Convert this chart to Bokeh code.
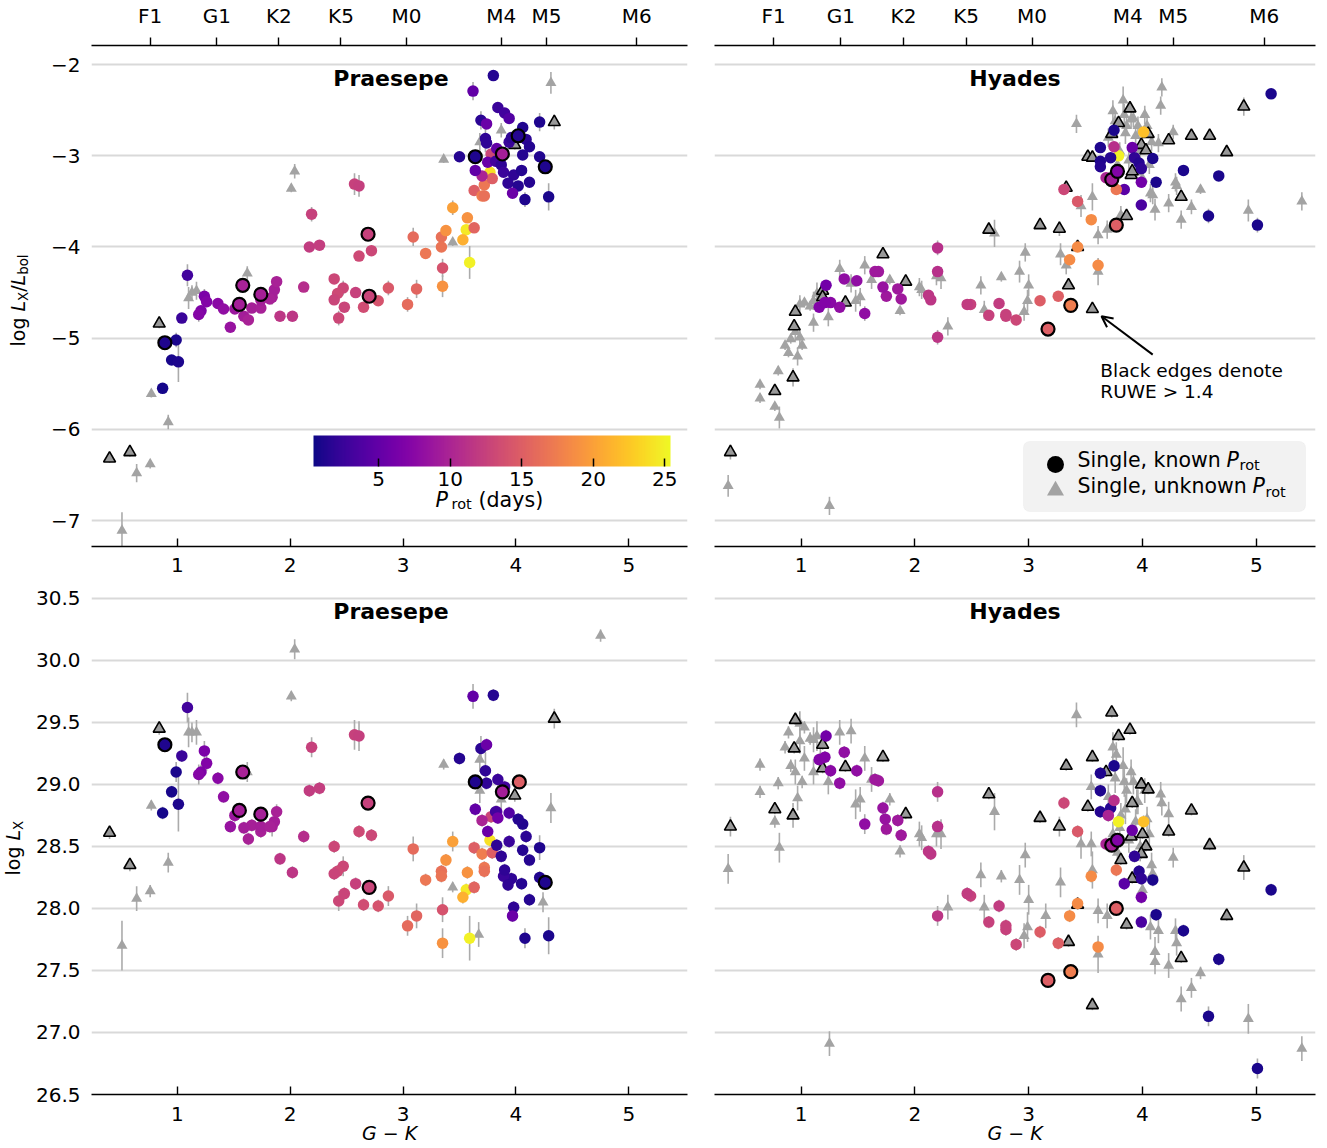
import math
import numpy as np
from bokeh.plotting import figure
from bokeh.layouts import gridplot
from bokeh.models import (ColumnDataSource, LinearColorMapper, ColorBar, FixedTicker,
                          CustomJSTickFormatter, LinearAxis, Label, BoxAnnotation,
                          Arrow, OpenHead, Range1d)
from bokeh.palettes import Plasma256
from bokeh.embed import file_html
from bokeh.resources import INLINE

nan = float("nan")

# ---------------- data ----------------
SPT_LABELS = ["F1", "G1", "K2", "K5", "M0", "M4", "M5", "M6"]
SPT_GK = [0.76, 1.35, 1.90, 2.45, 3.03, 3.87, 4.27, 5.07]
GK_TICKS = [1, 2, 3, 4, 5]
LXLBOL_TICKS = [-7, -6, -5, -4, -3, -2]
LX_TICKS = [26.5, 27.0, 27.5, 28.0, 28.5, 29.0, 29.5, 30.0, 30.5]
PROT_TICKS = [5, 10, 15, 20, 25]
PROT_LOW, PROT_HIGH = 0.45, 25.4

# Praesepe, single stars with known rotation period
PR_GK = [0.89, 0.99, 0.95, 1.01, 0.87, 1.04, 1.09, 1.24, 1.26, 1.21,
         1.19, 1.36, 1.41, 1.47, 1.51, 1.58, 1.55, 1.74, 1.66, 1.59,
         1.63, 1.74, 1.74, 1.84, 1.86, 1.88, 1.82, 1.91, 2.02, 2.12,
         2.19, 2.17, 2.26, 2.57, 2.61, 2.39, 2.47, 2.42, 2.39, 2.43,
         2.48, 2.58, 2.65, 2.69, 2.61, 2.72, 2.70, 2.78, 2.87, 3.04,
         3.09, 3.12, 3.20, 3.34, 3.34, 3.38, 3.35, 3.35, 3.44, 3.57,
         3.56, 3.63, 3.53, 3.59, 3.63, 3.70, 3.72, 3.72, 3.77, 3.79,
         3.78, 3.70, 3.50, 3.64, 3.62, 3.80, 3.69, 3.73, 3.74, 3.84,
         3.90, 3.94, 3.74, 3.83, 3.88, 3.94, 3.96, 4.02, 4.06, 4.09,
         4.12, 4.06, 4.21, 4.21, 4.26, 3.64, 3.75, 3.82, 3.87, 3.89,
         3.98, 4.05, 3.93, 4.02, 3.97, 4.12, 4.08, 4.29,
         3.83, 3.90, 3.84, 4.03]
PR_LXLBOL = [-5.05, -5.02, -5.24, -5.26, -5.55, -4.78, -4.31, -4.54, -4.60, -4.70,
             -4.74, -4.62, -4.68, -4.88, -4.68, -4.42, -4.63, -4.52, -4.67, -4.76,
             -4.80, -4.67, -4.58, -4.55, -4.47, -4.38, -4.57, -4.76, -4.76, -4.44,
             -3.64, -4.00, -3.98, -3.31, -3.33, -4.35, -4.45, -4.51, -4.58, -4.78,
             -4.66, -4.50, -4.66, -3.86, -4.10, -4.04, -4.54, -4.59, -4.45, -4.63,
             -3.89, -4.46, -4.07, -3.89, -4.00, -3.82, -4.23, -4.43, -3.57, -3.68,
             -3.81, -3.79, -3.92, -4.17, -3.38, -3.44, -3.32, -3.44, -3.18, -3.25,
             -2.98, -3.22, -3.01, -3.01, -2.29, -2.12, -2.61, -2.81, -2.65, -2.47,
             -2.53, -2.59, -2.86, -2.92, -2.98, -2.85, -2.80, -2.78, -2.69, -2.82,
             -2.90, -2.99, -2.63, -3.01, -3.12, -3.16, -3.07, -3.06, -3.10, -3.18,
             -3.21, -3.16, -3.30, -3.33, -3.41, -3.29, -3.48, -3.45,
             nan, nan, nan, nan]
PR_LX = [29.32, 29.10, 28.94, 28.84, 28.77, 29.23, 29.62, 29.27, 29.17, 29.10,
         29.08, 29.05, 28.90, 28.66, 28.75, 29.10, 28.79, 28.76, 28.67, 28.65,
         28.56, 28.62, 28.66, 28.66, 28.70, 28.78, 28.66, 28.40, 28.29, 28.58,
         29.30, 28.95, 28.97, 29.40, 29.39, 28.50, 28.34, 28.30, 28.28, 28.06,
         28.12, 28.20, 28.03, 28.85, 28.62, 28.59, 28.17, 28.02, 28.10, 27.86,
         28.48, 27.94, 28.23, 28.30, 28.26, 28.39, 27.99, 27.72, 28.54, 28.29,
         28.15, 28.17, 28.09, 27.76, 28.49, 28.44, 28.33, 28.30, 28.55, 28.45,
         28.74, 28.71, 29.21, 29.02, 29.71, 29.72, 29.29, 29.11, 29.32, 29.04,
         28.98, 28.77, 29.01, 28.78, 28.94, 28.54, 28.24, nan, 28.68, 28.58,
         28.39, 28.47, 28.49, 28.25, 28.21, 28.80, 28.62, 28.78, 28.42, 28.26,
         28.01, 28.20, 28.19, 28.72, 27.94, 28.07, 27.76, 27.78,
         28.51, 28.31, 28.73, 29.02]
PR_PROT = [1.2, 1.0, 0.9, 1.1, 0.8, 2.5, 3.0, 6.5, 7.0, 6.8,
           7.2, 7.5, 8.0, 8.5, 8.8, 9.8, 9.5, 9.6, 9.6, 9.4,
           9.8, 9.7, 9.5, 9.6, 9.5, 9.8, 9.7, 11.5, 11.5, 10.8,
           12.5, 12.0, 12.2, 12.5, 12.3, 13.0, 13.0, 13.2, 12.8, 13.0,
           12.8, 12.5, 13.5, 12.5, 13.2, 13.0, 12.8, 14.0, 14.5, 16.0,
           16.0, 15.5, 17.0, 16.5, 16.8, 19.0, 14.0, 19.0, 20.0, 19.0,
           24.5, 15.5, 21.0, 25.0, 15.0, 17.5, 17.0, 16.5, 24.0, 15.0,
           13.0, 10.0, 1.5, 1.2, 5.0, 1.5, 1.8, 2.0, 5.5, 2.5,
           3.0, 4.0, 2.0, 5.0, 9.5, 2.5, 2.0, 1.5, 1.3, 1.8,
           1.5, 1.5, 1.2, 1.3, 1.2, 5.0, 5.5, 3.0, 2.0, 2.5,
           2.0, 1.5, 2.0, 1.5, 5.5, 1.5, 1.2, 1.0,
           2.0, 2.0, 6.0, 15.0]
PR_RUWE = [1, 0, 0, 0, 0, 0, 0, 0, 0, 0,
           0, 0, 0, 0, 0, 1, 1, 1, 0, 0,
           0, 0, 0, 0, 0, 0, 0, 0, 0, 0,
           0, 0, 0, 0, 0, 0, 0, 0, 0, 0,
           0, 0, 0, 1, 0, 0, 1, 0, 0, 0,
           0, 0, 0, 0, 0, 0, 0, 0, 0, 0,
           0, 0, 0, 0, 0, 0, 0, 0, 0, 0,
           0, 0, 0, 1, 0, 0, 0, 0, 0, 0,
           0, 0, 0, 0, 1, 0, 0, 1, 0, 0,
           0, 0, 0, 0, 1, 0, 0, 0, 0, 0,
           0, 0, 0, 0, 0, 0, 0, 0,
           0, 0, 0, 1]
PR_ERR = [0.05, 0.08, 0.05, 0.22, 0.05, 0.05, 0.12, 0.08, 0.06, 0.06,
          0.08, 0.05, 0.05, 0.05, 0.05, 0.05, 0.05, 0.05, 0.05, 0.05,
          0.05, 0.05, 0.06, 0.08, 0.06, 0.06, 0.05, 0.05, 0.05, 0.05,
          0.08, 0.05, 0.05, 0.12, 0.12, 0.05, 0.08, 0.05, 0.05, 0.08,
          0.05, 0.05, 0.05, 0.05, 0.05, 0.05, 0.05, 0.05, 0.08, 0.08,
          0.10, 0.10, 0.05, 0.05, 0.05, 0.05, 0.10, 0.12, 0.08, 0.05,
          0.05, 0.05, 0.05, 0.18, 0.05, 0.05, 0.05, 0.05, 0.05, 0.05,
          0.05, 0.05, 0.05, 0.05, 0.10, 0.05, 0.10, 0.15, 0.05, 0.05,
          0.05, 0.05, 0.05, 0.05, 0.05, 0.05, 0.05, 0.05, 0.05, 0.05,
          0.05, 0.05, 0.10, 0.05, 0.05, 0.05, 0.05, 0.05, 0.05, 0.05,
          0.05, 0.05, 0.05, 0.05, 0.05, 0.05, 0.08, 0.15,
          0.05, 0.05, 0.05, 0.05]

# Praesepe, single stars with unknown rotation period
PRU_GK = [0.40, 0.58, 0.64, 0.76, 0.51, 0.77, 0.84, 0.92, 1.10, 1.13,
          1.17, 1.62, 2.01, 2.04, 3.36, 3.44, 3.68, 3.87, 4.31, 4.34,
          3.99, 3.68, 4.75, 4.24, 3.67]
PRU_LXLBOL = [-6.32, -6.25, -6.48, -6.38, -7.11, -5.61, -4.84, -5.92, -4.56, -4.50,
              -4.48, -4.29, -3.36, -3.17, -3.04, -3.95, -2.85, -2.72, -2.20, -2.63,
              -2.88, nan, nan, nan, nan]
PRU_LX = [28.61, 28.35, 28.08, 28.14, 27.70, 28.83, 29.45, 28.37, 29.42, 29.42,
          29.42, 29.10, 29.71, 30.09, 29.16, 28.17, 28.95, 28.88, 28.81, 29.53,
          28.91, 29.20, 30.20, 28.05, 27.79]
PRU_ERR = [0.05, 0.05, 0.10, 0.05, 0.20, 0.04, 0.05, 0.08, 0.12, 0.08,
           0.10, 0.08, 0.04, 0.08, 0.04, 0.04, 0.10, 0.08, 0.12, 0.08,
           0.05, 0.10, 0.05, 0.08, 0.10]
PRU_RUWE = [1, 1, 0, 0, 0, 0, 1, 0, 0, 0,
            0, 0, 0, 0, 0, 0, 0, 0, 0, 1,
            1, 0, 0, 0, 0]

# Hyades, single stars with known rotation period
HY_GK = [5.13, 5.01, 4.67, 4.58, 4.36, 4.12, 4.09, 3.99, 3.99, 3.84,
         4.01, 3.79, 3.75, 3.63, 3.63, 3.63, 3.72, 3.75, 3.91, 3.93,
         3.97, 3.99, 3.68, 3.73, 3.78, 3.77, 3.77, 3.31, 3.43, 3.55,
         3.43, 3.36, 3.61, 3.37, 3.17, 3.26, 3.10, 2.89, 2.80, 2.80,
         2.74, 2.65, 2.49, 2.46, 2.20, 2.20, 2.20, 2.14, 2.12, 1.88,
         1.85, 1.75, 1.72, 1.68, 1.65, 1.56, 1.49, 1.38, 1.34, 1.26,
         1.22, 1.16, 1.21, 3.70, 1.74]
HY_LXLBOL = [-2.32, -3.76, -3.22, -3.66, -3.16, -3.29, -3.03, -3.54, -3.29, -3.37,
             -2.74, -3.00, -2.72, -2.91, -3.06, -3.12, -3.02, -2.90, -2.91, -3.02,
             -3.08, -3.14, -3.24, -3.26, -3.17, -3.37, -3.76, -3.37, -3.50, -3.70,
             -4.00, -4.14, -4.20, -4.64, -4.90, -4.54, -4.59, -4.80, -4.74, -4.76,
             -4.62, -4.75, -4.63, -4.63, -4.01, -4.27, -4.99, -4.58, -4.53, -4.57,
             -4.46, -4.54, -4.44, -4.27, -4.27, -4.73, -4.37, -4.35, -4.66, -4.61,
             -4.42, -4.66, -4.61, nan, nan]
HY_LX = [28.15, 26.71, 27.59, 27.13, 27.82, 27.95, 28.23, 27.89, 28.09, 28.20,
         28.70, 28.70, 29.15, 29.09, 28.95, 28.78, 28.81, 28.87, 28.63, 28.42,
         28.30, 28.24, 28.52, 28.51, 28.55, 28.31, 28.00, 28.85, 28.62, 28.26,
         28.04, 27.94, 27.69, 27.49, 27.42, 27.72, 27.81, 27.71, 27.83, 27.86,
         28.02, 27.89, 28.10, 28.12, 28.94, 28.66, 27.94, 28.44, 28.46, 28.59,
         28.71, 28.64, 28.81, 29.03, 29.04, 28.68, 29.11, 29.26, 29.01, 29.11,
         29.39, 29.20, 29.22, 28.75, 28.72]
HY_PROT = [1.0, 1.0, 1.0, 1.0, 1.0, 1.0, 1.0, 3.5, 6.0, 4.5,
           22.0, 25.0, 1.0, 1.2, 1.2, 1.5, 1.5, 11.0, 5.5, 2.0,
           1.5, 2.0, 10.0, 9.5, 7.0, 17.0, 15.0, 13.0, 14.5, 18.5,
           18.5, 18.5, 18.5, 17.5, 15.0, 15.0, 14.8, 13.0, 12.5, 12.5,
           12.0, 12.5, 12.5, 12.0, 11.0, 11.0, 11.5, 11.5, 11.5, 9.0,
           9.0, 9.0, 8.5, 9.0, 9.0, 8.0, 8.0, 8.0, 8.0, 7.5,
           6.0, 7.0, 7.0, 10.0, 8.5]
HY_RUWE = [0, 0, 0, 0, 0, 0, 0, 0, 0, 0,
           0, 0, 0, 0, 0, 0, 0, 0, 0, 0,
           0, 0, 0, 1, 1, 0, 1, 0, 0, 0,
           0, 0, 0, 1, 1, 0, 0, 0, 0, 0,
           0, 0, 0, 0, 0, 0, 0, 0, 0, 0,
           0, 0, 0, 0, 0, 0, 0, 0, 0, 0,
           0, 0, 0, 0, 0]
HY_ERR = [0.05, 0.08, 0.05, 0.08, 0.05, 0.05, 0.05, 0.05, 0.05, 0.05,
          0.05, 0.05, 0.05, 0.05, 0.05, 0.05, 0.05, 0.05, 0.05, 0.05,
          0.05, 0.05, 0.05, 0.05, 0.05, 0.05, 0.05, 0.05, 0.05, 0.05,
          0.05, 0.05, 0.05, 0.05, 0.05, 0.05, 0.05, 0.05, 0.05, 0.05,
          0.05, 0.05, 0.05, 0.05, 0.08, 0.05, 0.08, 0.05, 0.05, 0.05,
          0.05, 0.05, 0.05, 0.05, 0.05, 0.08, 0.05, 0.05, 0.05, 0.05,
          0.05, 0.05, 0.05, 0.05, 0.05]

# Hyades, unknown rotation period, RUWE > 1.4
HYR_GK = [0.38, 0.77, 0.93, 0.94, 0.95, 1.19, 1.19, 1.39, 1.72, 1.92,
          2.65, 3.10, 3.27, 3.33, 3.43, 3.35, 3.56, 3.86, 4.34, 4.23,
          4.43, 4.59, 4.74, 4.89, 3.89, 3.79, 3.73, 3.52, 3.56, 3.99,
          4.05, 4.03, 3.90, 3.91, 3.68, 4.00, 3.81, 3.91, 3.99]
HYR_LXLBOL = [-6.25, -5.58, -5.43, -4.87, -4.71, -4.48, -4.55, -4.61, -4.08, -4.38,
              -3.81, -3.76, -3.80, -3.35, -4.00, -4.42, -4.68, -3.66, -3.45, -2.83,
              -2.78, -2.78, -2.96, -2.46, -2.48, -2.64, -2.76, -3.01, -3.02, -2.88,
              -2.76, -2.94, -3.21, -3.17, nan, nan, nan, nan, nan]
HYR_LX = [28.66, 28.80, 28.75, 29.29, 29.52, 29.32, 29.13, 29.14, 29.22, 28.76,
          28.92, 28.73, 28.66, 29.15, 28.03, 27.73, 27.22, 27.87, 27.60, 28.62,
          28.79, 28.51, 27.94, 28.33, 29.44, 29.39, 29.58, 28.82, 29.22, 29.00,
          28.96, 28.50, 28.58, 28.85, 29.10, 28.60, 28.39, 28.24, 28.44]
HYR_ERR = [0.08, 0.04, 0.10, 0.04, 0.04, 0.04, 0.04, 0.04, 0.04, 0.04,
           0.04, 0.04, 0.08, 0.04, 0.04, 0.04, 0.04, 0.04, 0.04, 0.04,
           0.04, 0.04, 0.04, 0.10, 0.04, 0.04, 0.04, 0.04, 0.04, 0.04,
           0.04, 0.04, 0.04, 0.04, 0.04, 0.04, 0.04, 0.04, 0.04]

# Hyades, unknown rotation period, RUWE <= 1.4
HYU_GK = [0.36, 1.25, 0.64, 0.64, 0.80, 0.77, 0.81, 0.86, 0.89, 0.91,
          0.95, 0.97, 1.01, 0.99, 0.99, 1.03, 1.08, 1.11, 1.14, 1.11,
          1.17, 1.24, 1.34, 1.44, 1.48, 1.52, 1.56, 1.62, 1.78, 1.87,
          2.04, 2.06, 2.19, 2.23, 2.29, 2.58, 2.61, 2.70, 2.76, 2.92,
          2.97, 3.00, 2.99, 2.96, 3.28, 3.33, 3.42, 3.46, 3.56, 3.61,
          3.61, 3.69, 3.74, 3.83, 3.84, 3.86, 3.92, 3.96, 4.04, 4.09,
          4.11, 4.07, 4.16, 4.17, 4.27, 4.29, 4.30, 4.23, 4.34, 4.43,
          4.51, 4.93, 5.40, 4.14, 3.95, 4.06, 3.81,
          3.70, 3.76, 3.80, 3.85, 3.88, 3.94, 3.98, 4.02, 4.08, 3.78,
          3.90, 4.00,
          3.15, 4.11, 4.23, 3.74, 3.55, 3.55, 1.03, 3.77]
HYU_LXLBOL = [-6.62, -6.84, -5.51, -5.66, -5.36, -5.75, -5.87, -5.08, -5.16, -5.01,
              -4.93, -5.20, -5.08, -4.99, -4.63, -4.61, -4.65, -4.59, -4.51, -4.83,
              -4.55, -4.77, -4.24, -4.40, -4.59, -4.55, -4.20, -4.36, -4.36, -4.70,
              -4.44, -4.47, -4.32, -4.34, -4.87, -4.42, -4.69, -3.85, -4.33, -4.27,
              -4.06, -4.42, -4.59, -4.71, -4.08, -4.20, -2.65, -3.55, -3.45, -3.87,
              -4.27, -3.81, -2.51, -2.39, -2.55, -2.67, -2.59, -2.67, -2.67, -3.43,
              -3.59, -3.41, -2.45, -2.25, -2.74, -3.29, -3.33, -3.52, -3.70, -3.56,
              -3.37, -3.60, -3.50, -2.86, -3.18, -3.10, -3.65,
              -2.80, -2.62, -2.95, -2.75, -3.05, -2.78, -2.95, -2.55, -2.85, -3.10,
              -2.60, -3.25,
              nan, nan, nan, nan, nan, nan, nan, nan]
HYU_LX = [28.32, 26.91, 29.16, 28.94, 29.01, 28.70, 28.49, 29.30, 29.42, 29.15,
          29.10, 28.89, 29.02, 29.49, 29.35, 29.46, 29.37, 29.36, 29.39, 29.10,
          29.21, 29.02, 29.42, 29.43, 28.84, 28.88, 29.21, 29.04, 28.88, 28.46,
          28.60, 28.57, 28.60, 28.60, 28.01, 28.27, 28.01, 28.78, 28.26, 28.23,
          28.43, 28.07, 27.85, 27.78, 28.21, nan, 29.56, 28.52, 28.31, 27.98,
          27.63, 27.94, 29.30, 29.15, 29.02, 28.95, 29.02, 28.86, 28.72, 28.28,
          27.65, 27.85, 28.92, 28.85, 28.41, 27.82, 27.72, 27.54, 27.27, 27.36,
          27.48, 27.11, 26.87, 27.82, 28.86, 28.60, 28.75,
          28.90, 29.05, 28.65, 28.80, 28.55, 28.70, 28.50, 28.95, 28.35, 28.45,
          29.10, 28.15,
          27.94, 27.57, 28.76, 28.60, 28.98, 28.52, 29.21, 29.24]
HYU_ERR = [0.12, 0.10, 0.05, 0.05, 0.05, 0.05, 0.12, 0.05, 0.05, 0.05,
           0.10, 0.10, 0.05, 0.10, 0.10, 0.05, 0.05, 0.10, 0.12, 0.10,
           0.08, 0.10, 0.10, 0.10, 0.12, 0.10, 0.10, 0.10, 0.05, 0.05,
           0.10, 0.10, 0.10, 0.12, 0.10, 0.10, 0.10, 0.15, 0.05, 0.12,
           0.10, 0.12, 0.12, 0.10, 0.12, 0.10, 0.10, 0.12, 0.15, 0.10,
           0.15, 0.10, 0.12, 0.15, 0.12, 0.10, 0.10, 0.10, 0.10, 0.10,
           0.12, 0.10, 0.10, 0.10, 0.08, 0.10, 0.10, 0.10, 0.10, 0.08,
           0.05, 0.12, 0.10, 0.10, 0.10, 0.10, 0.10,
           0.10, 0.12, 0.10, 0.12, 0.10, 0.10, 0.12, 0.10, 0.10, 0.12,
           0.10, 0.10,
           0.10, 0.10, 0.10, 0.10, 0.10, 0.10, 0.10, 0.10]

for grp in [(PR_GK, PR_LXLBOL, PR_LX, PR_PROT, PR_RUWE, PR_ERR),
            (PRU_GK, PRU_LXLBOL, PRU_LX, PRU_ERR, PRU_RUWE),
            (HY_GK, HY_LXLBOL, HY_LX, HY_PROT, HY_RUWE, HY_ERR),
            (HYR_GK, HYR_LXLBOL, HYR_LX, HYR_ERR),
            (HYU_GK, HYU_LXLBOL, HYU_LX, HYU_ERR)]:
    assert len(set(len(a) for a in grp)) == 1, [len(a) for a in grp]

# ---------------- style / layout ----------------
FONT = "DejaVu Sans"
GRID_C = "#d9d9d9"
ERR_C = "#ababab"
TRI_C = "#a3a3a3"
TRI_R_C = "#999999"
X_RANGE = (0.24, 5.52)
Y_TOP = (-7.285, -1.79)
Y_BOT = (26.5, 30.62)

LAB_W = 32                       # width of the strip holding the y-axis titles
BORDER_L = {True: 56, False: 14}
BORDER_R = {True: 13, False: 12}
BORDER_T = {True: 45, False: 0}
BORDER_B = {True: 37, False: 50}
FRAME_W = {True: 599, False: 601}
FRAME_H = {True: 501, False: 513}

mapper = LinearColorMapper(palette=Plasma256, low=PROT_LOW, high=PROT_HIGH)


def lab(p, x, y, text, size, style="normal", align="left", baseline="middle",
        angle=0.0, units="screen", level="annotation"):
    p.add_layout(Label(x=x, y=y, x_units=units, y_units=units, text=text,
                       text_font=FONT, text_font_size=f"{size}px",
                       text_font_style=style, text_align=align,
                       text_baseline=baseline, angle=angle, text_color="black",
                       level=level))


def panel(top, left, title):
    w = BORDER_L[left] + FRAME_W[left] + BORDER_R[left]
    h = BORDER_T[top] + FRAME_H[top] + BORDER_B[top]
    p = figure(width=w, height=h, title=None, output_backend="svg",
               toolbar_location=None,
               x_range=Range1d(*X_RANGE),
               y_range=Range1d(*(Y_TOP if top else Y_BOT)),
               min_border_left=BORDER_L[left], min_border_right=BORDER_R[left],
               min_border_top=BORDER_T[top], min_border_bottom=BORDER_B[top])
    p.outline_line_color = None
    p.xgrid.visible = False
    yt = LXLBOL_TICKS if top else LX_TICKS
    p.ygrid.ticker = FixedTicker(ticks=yt)
    p.ygrid.grid_line_color = GRID_C
    p.ygrid.grid_line_width = 2

    xa = p.xaxis[0]
    xa.ticker = FixedTicker(ticks=GK_TICKS)
    xa.major_tick_in = 8
    xa.major_tick_out = 0
    xa.major_tick_line_color = "black"
    xa.major_tick_line_width = 1.4
    xa.minor_tick_line_color = None
    xa.axis_line_color = "black"
    xa.axis_line_width = 1.6
    xa.major_label_text_font = FONT
    xa.major_label_text_font_size = "20px"
    xa.major_label_text_color = "black"
    xa.major_label_standoff = 11 if top else 12
    if not top:
        xa.axis_label = "G \u2212 K"
        xa.axis_label_text_font = FONT
        xa.axis_label_text_font_size = "19px"
        xa.axis_label_text_font_style = "italic"
        xa.axis_label_text_color = "black"
        xa.axis_label_standoff = -2

    ya = p.yaxis[0]
    if left:
        ya.ticker = FixedTicker(ticks=yt)
        if top:
            ya.formatter = CustomJSTickFormatter(
                code="return (tick < 0 ? '\u2212' : '') + Math.abs(tick).toFixed(0);")
        else:
            ya.formatter = CustomJSTickFormatter(code="return tick.toFixed(1);")
        ya.major_tick_in = 0
        ya.major_tick_out = 0
        ya.major_tick_line_color = None
        ya.minor_tick_line_color = None
        ya.axis_line_color = None
        ya.major_label_standoff = 11
        ya.major_label_text_font = FONT
        ya.major_label_text_font_size = "20px"
        ya.major_label_text_color = "black"
    else:
        ya.visible = False

    if top:
        ta = LinearAxis(ticker=FixedTicker(ticks=SPT_GK),
                        formatter=CustomJSTickFormatter(args=dict(labels=SPT_LABELS),
                                                        code="return labels[index];"))
        ta.major_tick_out = 8
        ta.major_tick_in = 0
        ta.major_tick_line_color = "black"
        ta.major_tick_line_width = 1.4
        ta.minor_tick_line_color = None
        ta.axis_line_color = "black"
        ta.axis_line_width = 1.6
        ta.major_label_text_font = FONT
        ta.major_label_text_font_size = "20px"
        ta.major_label_text_color = "black"
        ta.major_label_standoff = 10
        p.add_layout(ta, "above")

    lab(p, FRAME_W[left] / 2, FRAME_H[top] - (33 if top else 30), title, 22,
        style="bold", align="center")
    return p


def label_strip(top):
    # its frame is aligned by the grid with the frames of the same row
    h = BORDER_T[top] + FRAME_H[top] + BORDER_B[top]
    f = figure(width=LAB_W, height=h, title=None, output_backend="svg",
               toolbar_location=None, x_range=Range1d(0, LAB_W), y_range=Range1d(0, 1),
               x_axis_location=None, y_axis_location=None,
               min_border_left=0, min_border_right=0, min_border_top=0,
               min_border_bottom=0)
    f.outline_line_color = None
    for g in f.grid:
        g.visible = False
    return f


def draw(p, gk, y, prot, err, ruwe, ugk, uy, uerr, uruwe):
    gk = np.array(gk, float); y = np.array(y, float); prot = np.array(prot, float)
    err = np.array(err, float); ruwe = np.array(ruwe, int)
    ugk = np.array(ugk, float); uy = np.array(uy, float)
    uerr = np.array(uerr, float); uruwe = np.array(uruwe, int)

    def src(m, xx, yy, ee, pp=None):
        d = dict(x=xx[m], y=yy[m], lo=yy[m] - ee[m], hi=yy[m] + ee[m])
        if pp is not None:
            d["prot"] = pp[m]
        return ColumnDataSource(d)

    u0 = src(uruwe == 0, ugk, uy, uerr)
    u1 = src(uruwe == 1, ugk, uy, uerr)
    k0 = src(ruwe == 0, gk, y, err, prot)
    k1 = src(ruwe == 1, gk, y, err, prot)
    for s in (u0, u1, k0, k1):
        p.segment(x0="x", y0="lo", x1="x", y1="hi", source=s,
                  line_color=ERR_C, line_width=1.6)
    p.scatter("x", "y", source=u0, marker="triangle", size=11,
              fill_color=TRI_C, line_color=None)
    p.scatter("x", "y", source=u1, marker="triangle", size=12,
              fill_color=TRI_R_C, line_color="black", line_width=1.6)
    p.scatter("x", "y", source=k0, marker="circle", size=11.5,
              fill_color={"field": "prot", "transform": mapper}, line_color=None)
    p.scatter("x", "y", source=k1, marker="circle", size=13,
              fill_color={"field": "prot", "transform": mapper},
              line_color="black", line_width=2.2)


# ---------------- panels ----------------
p1 = panel(True, True, "Praesepe")
draw(p1, PR_GK, PR_LXLBOL, PR_PROT, PR_ERR, PR_RUWE,
     PRU_GK, PRU_LXLBOL, PRU_ERR, PRU_RUWE)
p2 = panel(True, False, "Hyades")
draw(p2, HY_GK, HY_LXLBOL, HY_PROT, HY_ERR, HY_RUWE,
     HYR_GK + HYU_GK, HYR_LXLBOL + HYU_LXLBOL, HYR_ERR + HYU_ERR,
     [1] * len(HYR_GK) + [0] * len(HYU_GK))
p3 = panel(False, True, "Praesepe")
draw(p3, PR_GK, PR_LX, PR_PROT, PR_ERR, PR_RUWE,
     PRU_GK, PRU_LX, PRU_ERR, PRU_RUWE)
p4 = panel(False, False, "Hyades")
draw(p4, HY_GK, HY_LX, HY_PROT, HY_ERR, HY_RUWE,
     HYR_GK + HYU_GK, HYR_LX + HYU_LX, HYR_ERR + HYU_ERR,
     [1] * len(HYR_GK) + [0] * len(HYU_GK))

HALF = math.pi / 2
# y-axis title, top row: log L_X / L_bol (offsets measured from the frame bottom)
s1 = label_strip(True)
lab(s1, 17.0, 200, "log", 19, angle=HALF)
lab(s1, 17.0, 235, "L", 19, style="italic", angle=HALF)
lab(s1, 22.5, 245.6, "X", 13.3, angle=HALF)
lab(s1, 17.0, 254.7, "/", 19, angle=HALF)
lab(s1, 17.0, 261.1, "L", 19, style="italic", angle=HALF)
lab(s1, 22.5, 271.7, "bol", 13.3, angle=HALF)
# y-axis title, bottom row: log L_X
s2 = label_strip(False)
lab(s2, 12.9, 219, "log", 19, angle=HALF)
lab(s2, 12.9, 254, "L", 19, style="italic", angle=HALF)
lab(s2, 18.4, 264.6, "X", 13.3, angle=HALF)

# colour bar inside the top-left panel
cb = ColorBar(color_mapper=mapper, orientation="horizontal", width=357, height=31,
              location=(222, 58), padding=0, title=None,
              ticker=FixedTicker(ticks=PROT_TICKS),
              major_label_text_font=FONT, major_label_text_font_size="20px",
              major_label_text_color="black",
              major_tick_in=8, major_tick_out=0, major_tick_line_color="black",
              major_tick_line_width=1.5, minor_tick_line_color=None,
              bar_line_color=None, border_line_color=None,
              background_fill_alpha=0, label_standoff=5)
p1.add_layout(cb)
lab(p1, 344, 47, "P", 20.6, style="italic")
lab(p1, 360, 42.5, "rot", 14.5)
lab(p1, 387, 47, "(days)", 20.6)

# annotation in the Hyades panel
p2.add_layout(Arrow(end=OpenHead(size=11, line_width=2, line_color="black"),
                    x_start=4.09, y_start=-5.18, x_end=3.64, y_end=-4.76,
                    line_width=2, line_color="black"))
lab(p2, 3.63, -5.36, "Black edges denote", 18.5, units="data")
lab(p2, 3.63, -5.585, "RUWE > 1.4", 18.5, units="data")

# legend in the Hyades panel
p2.add_layout(BoxAnnotation(left=309, right=591, bottom=35, top=105,
                            left_units="screen", right_units="screen",
                            top_units="screen", bottom_units="screen",
                            fill_color="#f2f2f2", fill_alpha=1,
                            line_color="#e6e6e6", line_width=1, border_radius=6))


def f2d(fx, fy, fw, fh, yr):
    return (X_RANGE[0] + fx / fw * (X_RANGE[1] - X_RANGE[0]),
            yr[0] + fy / fh * (yr[1] - yr[0]))


cx, cy = f2d(341, 82, FRAME_W[False], FRAME_H[True], Y_TOP)
tx, ty = f2d(341, 56, FRAME_W[False], FRAME_H[True], Y_TOP)
p2.scatter([cx], [cy], marker="circle", size=17, fill_color="black",
           line_color=None, level="overlay")
p2.scatter([tx], [ty], marker="triangle", size=17, fill_color=TRI_C,
           line_color=None, level="overlay")
lab(p2, 363, 87, "Single, known", 20.5, level="overlay")
lab(p2, 512, 87, "P", 20.5, style="italic", level="overlay")
lab(p2, 525, 82, "rot", 14.5, level="overlay")
lab(p2, 363, 61, "Single, unknown", 20.5, level="overlay")
lab(p2, 538, 61, "P", 20.5, style="italic", level="overlay")
lab(p2, 551, 55, "rot", 14.5, level="overlay")

grid = gridplot([[s1, p1, p2], [s2, p3, p4]], toolbar_location=None)
open("out.html", "w").write(file_html(grid, INLINE, title="Lx vs G-K"))
